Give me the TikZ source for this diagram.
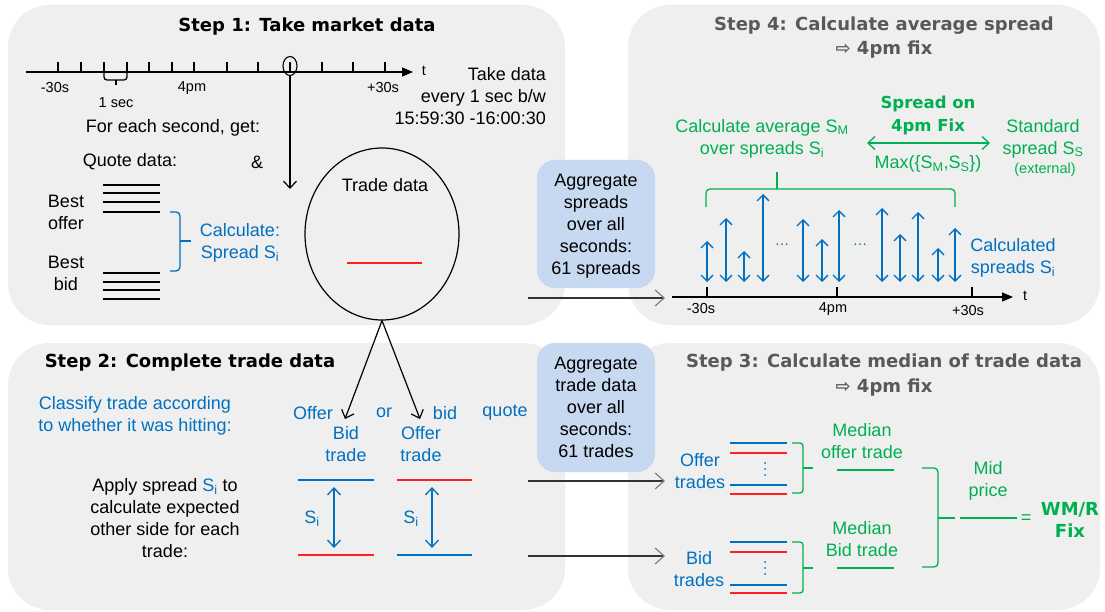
\documentclass[tikz,border=0pt]{standalone}
\usepackage{fontspec}
\setmainfont{Liberation Sans}
\newfontfamily\tfont{DejaVu Sans}
\usetikzlibrary{arrows.meta,shapes.geometric}
\definecolor{panel}{HTML}{EFEFEF}
\definecolor{mblue}{HTML}{0070C0}
\definecolor{mgreen}{HTML}{00B050}
\definecolor{mred}{HTML}{FF2020}
\definecolor{tgray}{HTML}{595959}
\definecolor{boxblue}{HTML}{C6D9F0}
\definecolor{agray}{HTML}{7F7F7F}
\newcommand{\Si}{S\textsubscript{i}}
\tikzset{
  txt/.style={inner sep=0pt, align=center, font=\fontsize{18}{22}\selectfont},
  sm/.style={inner sep=0pt, align=center, font=\fontsize{14.5}{17}\selectfont},
  ttl/.style={inner sep=0pt, align=center, font=\tfont\bfseries\fontsize{18}{24.5}\selectfont},
  gbold/.style={inner sep=0pt, align=center, text=mgreen, font=\tfont\bfseries\fontsize{16.5}{23}\selectfont},
  pan/.style={fill=panel, rounded corners=42pt},
  bbox/.style={fill=boxblue, rounded corners=18pt},
  chev/.style={-{Straight Barb[length=7pt,width=13pt]}},
  dchev/.style={{Straight Barb[length=7pt,width=13pt]}-{Straight Barb[length=7pt,width=13pt]}},
  axisline/.style={line width=1.3pt, -{Triangle[length=11pt,width=9pt]}},
  tick/.style={line width=1.1pt},
  lvl/.style={line width=1.6pt},
  brc/.style={line width=1.3pt, rounded corners=4pt},
  garrow/.style={line width=1.2pt, draw=black!80, -{Straight Barb[length=9pt,width=16pt,color=agray]}},
}
\begin{document}
\begin{tikzpicture}[x=1pt,y=-1pt]
\path[use as bounding box, fill=white] (0,0) rectangle (1105,612);
% panels
\path[pan] (8,5) rectangle (565,325);
\path[pan] (628,5) rectangle (1100,325);
\path[pan] (8,343) rectangle (565,610);
\path[pan] (628,343) rectangle (1100,610);

% ---------- Step 1 ----------
\node[ttl] (t1) at (307,27) {Step 1: Take market data};
\coordinate (a1s) at (26,72);
\coordinate (a1e) at (413,72);
\draw[axisline] (a1s) -- (a1e);
\node[sm] (t1lab) at (424,71) {t};
\foreach \x in {58,81,104,127,149,172,194,227,258,290,322,353,385}
  \draw[tick] (\x,62) -- (\x,72);
\node[sm] (m30) at (55,88) {-30s};
\node[sm] (pm4) at (192,88) {4pm};
\node[sm] (p30) at (383,88) {+30s};
\draw[brc, rounded corners=3pt] (104,72) -- (104,80) -- (127,80) -- (127,72);
\draw[line width=1.3pt] (116,80) -- (116,85);
\node[sm] (onesec) at (116,103) {1 sec};
\node[draw, ellipse, minimum width=14pt, minimum height=19pt, inner sep=0pt, line width=1.1pt] (circ) at (290,66) {};
\coordinate (tradein) at (290,189);
\draw[line width=1.2pt, chev] (circ.south) -- (tradein);
\node[txt, align=right, anchor=east] (takedata) at (546,96.5) {Take data\\every 1 sec b/w\\15:59:30 -16:00:30};
\node[txt] (foreach) at (173,128) {For each second, get:};
\node[txt] (quote) at (130,162) {Quote data:};
\node[txt] (amp) at (257,162) {\&};
\foreach \y in {185,193,202,212,273,282,290,299}
  \draw[line width=1.4pt] (103,\y) -- (160,\y);
\node[txt] (bestoffer) at (66,212) {Best\\offer};
\node[txt] (bestbid) at (66,273) {Best\\bid};
\draw[brc, draw=mblue] (170,212) -- (180,212) -- (180,271) -- (170,271);
\draw[line width=1.3pt, draw=mblue] (180,241) -- (191,241);
\node[txt, text=mblue] (calc) at (240,243) {Calculate:\\Spread \Si};
\node[draw, ellipse, minimum width=154pt, minimum height=172pt, inner sep=0pt, line width=1.2pt] (trade) at (382,234) {};
\node[txt] (tradedata) at (385,185) {Trade data};
\draw[lvl, draw=mred] (347,263) -- (422,263);

% ---------- Step 2 ----------
\node[ttl] (t2) at (190,363) {Step 2: Complete trade data};
\node[txt, text=mblue] (classify) at (135,416) {Classify trade according\\to whether it was hitting:};
\coordinate (bidend) at (345,419);
\coordinate (offend) at (420,419);
\draw[line width=1.2pt, chev] (trade.south) -- (bidend);
\draw[line width=1.2pt, chev] (trade.south) -- (offend);
\node[txt, text=mblue] (offerw) at (313,413) {Offer};
\node[txt, text=mblue] (orw) at (384,413) {or};
\node[txt, text=mblue] (bidw) at (445,413) {bid};
\node[txt, text=mblue] (quotew) at (505,413) {quote};
\node[txt, text=mblue] (bidtrade) at (346,444.5) {Bid\\trade};
\node[txt, text=mblue] (offtrade) at (421,444.5) {Offer\\trade};
\node[txt] (apply) at (165,518) {Apply spread {\color{mblue}\Si} to\\calculate expected\\other side for each\\trade:};
\draw[lvl, draw=mblue] (298,480) -- (374,480);
\draw[lvl, draw=mred] (298,555) -- (374,555);
\draw[lvl, draw=mred] (397,480) -- (472,480);
\draw[lvl, draw=mblue] (397,555) -- (472,555);
\draw[line width=1.3pt, draw=mblue, dchev] (334,487) -- (334,548);
\draw[line width=1.3pt, draw=mblue, dchev] (432,487) -- (432,548);
\node[txt, text=mblue] (s1) at (312,519) {\Si};
\node[txt, text=mblue] (s2) at (411,519) {\Si};

% ---------- middle boxes ----------
\path[bbox] (537,160) rectangle (655,288);
\node[txt] (agg1) at (596,226) {Aggregate\\spreads\\over all\\seconds:\\61 spreads};
\path[bbox] (537,343) rectangle (655,472);
\node[txt] (agg2) at (596,407.5) {Aggregate\\trade data\\over all\\seconds:\\61 trades};
\coordinate (g1s) at (528,298); \coordinate (g1e) at (665,298);
\coordinate (g2s) at (528,481); \coordinate (g2e) at (665,481);
\coordinate (g3s) at (528,556); \coordinate (g3e) at (665,556);
\draw[garrow] (g1s) -- (g1e);
\draw[garrow] (g2s) -- (g2e);
\draw[garrow] (g3s) -- (g3e);

% ---------- Step 4 ----------
\node[ttl, text=tgray] (t4) at (884,37.5) {Step 4: Calculate average spread\\\symbol{"21E8} 4pm fix};
\node[gbold] (spreadfix) at (928,115.5) {Spread on\\4pm Fix};
\coordinate (dl) at (867,143); \coordinate (dr) at (990,143);
\draw[line width=1.3pt, draw=mgreen, dchev] (dl) -- (dr);
\node[txt, text=mgreen] (maxs) at (928,164) {Max(\{S\textsubscript{M},S\textsubscript{S}\})};
\node[txt, text=mgreen] (calcavg) at (762,138.5) {Calculate average S\textsubscript{M}\\over spreads \Si};
\node[txt, text=mgreen] (standard) at (1043,138.5) {Standard\\spread S\textsubscript{S}};
\node[sm, text=mgreen] (external) at (1045,170) {(external)};
\draw[brc, draw=mgreen] (706,207) -- (706,189) -- (955,189) -- (955,207);
\draw[line width=1.3pt, draw=mgreen] (777,172) -- (777,189);
\foreach \x/\t in {707/241, 726/218, 744/251, 763/194, 803/219, 822/239, 839/210, 882/208, 900/234, 918/212, 938/248, 955/228}
  \draw[line width=1.3pt, draw=mblue, {Straight Barb[length=6pt,width=12pt]}-{Straight Barb[length=6pt,width=12pt]}] (\x,\t) -- (\x,282);
\node[sm, text=mblue] (dots1) at (782,245) {\dots};
\node[sm, text=mblue] (dots2) at (860,245) {\dots};
\node[txt, text=mblue] (calcsp) at (1013,257.5) {Calculated\\spreads \Si};
\coordinate (a4s) at (672,297);
\coordinate (a4e) at (1013,297);
\draw[axisline] (a4s) -- (a4e);
\node[sm] (t4lab) at (1025,296) {t};
\foreach \x in {707,837,972}
  \draw[tick] (\x,287) -- (\x,297);
\node[sm] (m30b) at (701,309) {-30s};
\node[sm] (pm4b) at (833,309) {4pm};
\node[sm] (p30b) at (968,311) {+30s};

% ---------- Step 3 ----------
\node[ttl, text=tgray] (t3) at (884,375) {Step 3: Calculate median of trade data\\\symbol{"21E8} 4pm fix};
\node[txt, text=mblue] (offtrades) at (700,471) {Offer\\trades};
\node[txt, text=mblue] (bidtrades) at (699,569) {Bid\\trades};
\foreach \y/\c in {443/mblue, 453/mred, 485/mblue, 494/mred, 542/mblue, 552/mred, 585/mblue, 593/mred}
  \draw[lvl, draw=\c] (730,\y) -- (787,\y);
\foreach \y in {463,469,475,562,568,574}
  \fill[mblue] (765,\y) circle (1pt);
\draw[brc, draw=mgreen, rounded corners=3pt] (792,443) -- (803,443) -- (803,493) -- (792,493);
\draw[line width=1.3pt, draw=mgreen] (803,468) -- (813,468);
\draw[brc, draw=mgreen, rounded corners=3pt] (792,542) -- (803,542) -- (803,593) -- (792,593);
\draw[line width=1.3pt, draw=mgreen] (803,568) -- (813,568);
\node[txt, text=mgreen] (medoff) at (862,441) {Median\\offer trade};
\draw[line width=1.3pt, draw=mgreen] (837,470) -- (894,470);
\node[txt, text=mgreen] (medbid) at (862,539) {Median\\Bid trade};
\draw[line width=1.3pt, draw=mgreen] (837,568) -- (894,568);
\draw[brc, draw=mgreen] (922,468) -- (938,468) -- (938,567) -- (922,567);
\draw[line width=1.3pt, draw=mgreen] (938,518) -- (955,518);
\node[txt, text=mgreen] (mid) at (988,480.5) {Mid\\price};
\draw[line width=1.3pt, draw=mgreen] (960,518) -- (1017,518);
\node[txt, text=mgreen] (eq) at (1026,519) {=};
\node[ttl, text=mgreen, font=\tfont\bfseries\fontsize{18}{22}\selectfont] (wmr) at (1070,520) {WM/R\\Fix};
\end{tikzpicture}
\end{document}
